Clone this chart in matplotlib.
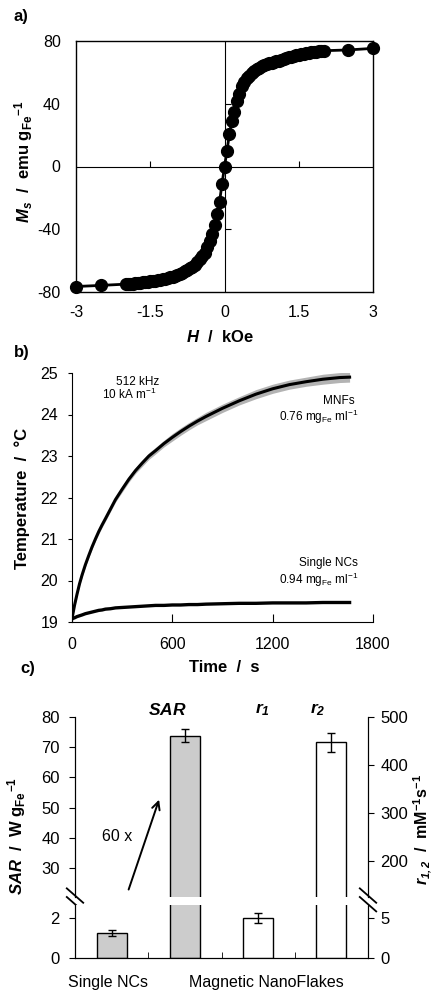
import matplotlib
matplotlib.use("Agg")
import matplotlib.pyplot as plt
import numpy as np

plt.rcParams['font.family'] = ['Liberation Sans', 'DejaVu Sans']
plt.rcParams['mathtext.fontset'] = 'custom'
plt.rcParams['mathtext.rm'] = 'Liberation Sans'
plt.rcParams['mathtext.it'] = 'Liberation Sans:italic'
plt.rcParams['mathtext.bf'] = 'Liberation Sans:bold'
plt.rcParams['mathtext.bfit'] = 'Liberation Sans:italic:bold'

# ---------------- data ----------------
# (a) magnetization curve
H_kOe = [-3.0, -2.5, -2.0, -1.95, -1.9, -1.85, -1.8, -1.75, -1.7, -1.65, -1.6, -1.55,
         -1.5, -1.45, -1.4, -1.35, -1.3, -1.25, -1.2, -1.15, -1.1, -1.05, -1.0, -0.95,
         -0.9, -0.85, -0.8, -0.75, -0.7, -0.65, -0.6, -0.55, -0.5, -0.45, -0.4, -0.35,
         -0.3, -0.25, -0.2, -0.15, -0.1, -0.05, 0.0, 0.05, 0.1, 0.15, 0.2, 0.25, 0.3,
         0.35, 0.4, 0.45, 0.5, 0.55, 0.6, 0.65, 0.7, 0.75, 0.8, 0.85, 0.9, 0.95, 1.0,
         1.05, 1.1, 1.15, 1.2, 1.25, 1.3, 1.35, 1.4, 1.45, 1.5, 1.55, 1.6, 1.65, 1.7,
         1.75, 1.8, 1.85, 1.9, 1.95, 2.0, 2.5, 3.0]
Ms = [-76.5, -75.8, -75.0, -74.9, -74.7, -74.6, -74.4, -74.3, -74.1, -73.9, -73.7, -73.5,
      -73.3, -73.1, -72.9, -72.6, -72.3, -72.0, -71.6, -71.2, -70.7, -70.2, -69.6, -69.0,
      -68.3, -67.6, -66.8, -65.9, -64.9, -63.8, -62.5, -61.0, -59.2, -57.3, -55.0, -51.5,
      -47.5, -43.0, -37.5, -30.0, -22.5, -11.0, 0.0, 10.0, 21.0, 29.0, 35.0, 41.5, 46.5,
      51.0, 54.0, 56.2, 58.0, 59.6, 61.0, 62.1, 63.0, 63.9, 64.7, 65.2, 65.7, 66.1, 66.5,
      67.0, 67.5, 68.0, 68.5, 69.0, 69.5, 70.0, 70.5, 70.9, 71.3, 71.7, 72.0, 72.3, 72.5,
      72.8, 73.0, 73.2, 73.4, 73.6, 73.8, 74.3, 75.3]

# (b) heating curves
time_s = [0, 15, 30, 45, 60, 80, 100, 120, 140, 160, 180, 200, 230, 260, 300, 340,
          380, 420, 460, 500, 550, 600, 650, 700, 750, 800, 900, 1000, 1100, 1200,
          1300, 1400, 1500, 1600, 1660]
T_MNF = [19.08, 19.40, 19.67, 19.92, 20.13, 20.38, 20.60, 20.81, 21.00, 21.18, 21.34,
         21.49, 21.72, 21.95, 22.20, 22.44, 22.65, 22.83, 23.00, 23.13, 23.30, 23.45,
         23.59, 23.72, 23.84, 23.95, 24.15, 24.33, 24.49, 24.62, 24.72, 24.79, 24.85,
         24.89, 24.90]
T_MNF_sd = [0.00, 0.01, 0.01, 0.01, 0.02, 0.02, 0.02, 0.02, 0.02, 0.03, 0.03, 0.03,
            0.03, 0.03, 0.04, 0.04, 0.04, 0.05, 0.05, 0.05, 0.05, 0.06, 0.06, 0.06,
            0.06, 0.07, 0.07, 0.07, 0.08, 0.08, 0.08, 0.08, 0.09, 0.09, 0.09]
T_NC = [19.08, 19.10, 19.13, 19.15, 19.17, 19.20, 19.22, 19.24, 19.26, 19.28, 19.29,
        19.31, 19.32, 19.34, 19.35, 19.36, 19.37, 19.38, 19.39, 19.40, 19.40, 19.41,
        19.41, 19.42, 19.42, 19.43, 19.44, 19.45, 19.45, 19.46, 19.46, 19.46, 19.47,
        19.47, 19.47]

# (c) bars
bar_labels = ['SAR NCs', 'SAR MNFs', 'r1 MNFs', 'r2 MNFs']
SAR_vals = [1.25, 73.8]
SAR_err = [0.15, 2.1]
r_vals = [5.0, 447.0]
r_err = [0.6, 19.0]

# ---------------- figure ----------------
W, Hpx = 434, 992
fig = plt.figure(figsize=(W / 100, Hpx / 100), dpi=100)

def rect(l, r, t, b):
    return [l / W, 1 - b / Hpx, (r - l) / W, (b - t) / Hpx]

FS = 11
FSL = 12

# ---- panel a ----
axa = fig.add_axes(rect(76, 373, 41, 292))
axa.plot(H_kOe, Ms, '-o', color='black', lw=2.0, ms=8.5, zorder=3, clip_on=False)
axa.axhline(0, color='black', lw=0.8, zorder=1)
axa.axvline(0, color='black', lw=0.8, zorder=1)
axa.plot([-1.5, 1.5], [0, 0], ls='none', marker=2, ms=4, color='black', mew=0.8)
axa.plot([0, 0], [40, -40], ls='none', marker=1, ms=4, color='black', mew=0.8)
axa.set_xlim(-3, 3)
axa.set_ylim(-80, 80)
axa.set_xticks([-3, -1.5, 0, 1.5, 3])
axa.set_xticklabels(['-3', '-1.5', '0', '1.5', '3'])
axa.set_yticks([-80, -40, 0, 40, 80])
axa.set_yticklabels(['-80', '-40', '0', '40', '80'])
axa.tick_params(axis='x', length=0, labelsize=FS + 0.5, pad=9)
axa.tick_params(axis='y', length=0, labelsize=FS + 0.5, pad=11)
for s in axa.spines.values():
    s.set_linewidth(1.0)
fig.text(220 / W, 1 - 337 / Hpx, r'$\mathbfit{H}$  /  kOe', ha='center', va='center',
         fontsize=FSL, fontweight='bold')
fig.text(24 / W, 1 - 162 / Hpx, r'$\mathbfit{M_s}$  /  emu g$_{\mathbf{Fe}}$$^{\mathbf{-1}}$',
         rotation=90, ha='center', va='center', fontsize=FSL, fontweight='bold')
fig.text(14 / W, 1 - 17 / Hpx, 'a)', fontsize=FSL, fontweight='bold', va='center')

# ---- panel b ----
axb = fig.add_axes(rect(72, 373, 373, 622))
tb = np.array(time_s)
tm = np.array(T_MNF)
sd = np.array(T_MNF_sd)
axb.fill_between(tb, tm - sd - 0.03, tm + sd + 0.03, color='#b3b3b3', lw=0, zorder=2)
axb.plot(time_s, T_MNF, color='black', lw=2.2, zorder=3)
axb.plot(time_s, T_NC, color='black', lw=2.4, zorder=3)
axb.set_xlim(0, 1800)
axb.set_ylim(19, 25)
axb.set_xticks([0, 600, 1200, 1800])
axb.set_yticks([19, 20, 21, 22, 23, 24, 25])
axb.spines['top'].set_visible(False)
axb.spines['right'].set_visible(False)
axb.tick_params(axis='x', direction='in', length=6, labelsize=FS + 0.5, pad=11)
axb.tick_params(axis='y', direction='out', length=3, labelsize=FS + 0.5, pad=7)
fs_small = 8.5
axb.text(0.29, 0.965, '512 kHz', transform=axb.transAxes, ha='right', va='center', fontsize=fs_small)
axb.text(0.28, 0.913, r'10 kA m$^{-1}$', transform=axb.transAxes, ha='right', va='center', fontsize=fs_small)
axb.text(0.94, 0.888, 'MNFs', transform=axb.transAxes, ha='right', va='center', fontsize=fs_small)
axb.text(0.95, 0.822, r'0.76 mg$_{\mathrm{Fe}}$ ml$^{-1}$', transform=axb.transAxes, ha='right', va='center', fontsize=fs_small)
axb.text(0.95, 0.237, 'Single NCs', transform=axb.transAxes, ha='right', va='center', fontsize=fs_small)
axb.text(0.95, 0.170, r'0.94 mg$_{\mathrm{Fe}}$ ml$^{-1}$', transform=axb.transAxes, ha='right', va='center', fontsize=fs_small)
fig.text(224 / W, 1 - 668 / Hpx, 'Time  /  s', ha='center', va='center', fontsize=FSL, fontweight='bold')
fig.text(22 / W, 1 - 498 / Hpx, 'Temperature  /  °C', rotation=90, ha='center', va='center',
         fontsize=FSL, fontweight='bold')
fig.text(14 / W, 1 - 352 / Hpx, 'b)', fontsize=FSL, fontweight='bold', va='center')

# ---- panel c ----
FSC = 12
x = np.arange(4)
bw = 0.41
axu = fig.add_axes(rect(75, 368, 717, 897))
axl = fig.add_axes(rect(75, 368, 905, 958))
axu2 = axu.twinx()
axl2 = axl.twinx()

for a_left, a_right in [(axu, axu2), (axl, axl2)]:
    a_left.bar(x[:2], SAR_vals, bw, yerr=SAR_err, color='#cccccc', edgecolor='black', lw=1,
               error_kw=dict(ecolor='black', elinewidth=1, capsize=3, capthick=1))
    a_right.bar(x[2:], r_vals, bw, yerr=r_err, color='white', edgecolor='black', lw=1,
                error_kw=dict(ecolor='black', elinewidth=1, capsize=3, capthick=1))
    for a in (a_left, a_right):
        a.set_xlim(-0.5, 3.5)
        a.spines['top'].set_visible(False)
        a.tick_params(labelsize=FSC, direction='out', length=4)
    a_left.tick_params(axis='y', pad=7)
    a_right.tick_params(axis='y', pad=5)

axu.set_ylim(20.4, 80)
axu2.set_ylim(125, 500)
axl.set_ylim(0, 2.65)
axl2.set_ylim(0, 6.6)
axu.set_yticks([30, 40, 50, 60, 70, 80])
axu2.set_yticks([200, 300, 400, 500])
axl.set_yticks([0, 2])
axl2.set_yticks([0, 5])
for a in (axu, axu2):
    a.spines['bottom'].set_visible(False)
    a.set_xticks([])
axl.set_xticks([])
axl.set_xticks([0.5, 1.5, 2.5], minor=True)
axl.tick_params(axis='x', which='minor', direction='in', length=4)
axl2.set_xticks([])

# break marks
for xs in (0.0, 1.0):
    for yc in (0.008, -0.040):
        axu.plot([xs - 0.028, xs + 0.028], [yc + 0.04, yc - 0.04], color='black', lw=1.3,
                 transform=axu.transAxes, clip_on=False)

# annotations
axu.annotate('', xy=(0.66, 53.5), xytext=(0.22, 22.0),
             arrowprops=dict(arrowstyle='->', lw=1.4, color='black', mutation_scale=14),
             annotation_clip=False)
axu.text(0.08, 40.3, '60 x', ha='center', va='center', fontsize=FS + 0.5)
fig.text(167 / W, 1 - 710 / Hpx, r'$\mathbfit{SAR}$', ha='center', va='center', fontsize=12.5)
fig.text(263 / W, 1 - 710 / Hpx, r'$\mathbfit{r_1}$', ha='center', va='center', fontsize=12.5)
fig.text(318 / W, 1 - 710 / Hpx, r'$\mathbfit{r_2}$', ha='center', va='center', fontsize=12.5)
fig.text(108 / W, 1 - 982 / Hpx, 'Single NCs', ha='center', va='center', fontsize=FS + 0.5)
fig.text(266 / W, 1 - 982 / Hpx, 'Magnetic NanoFlakes', ha='center', va='center', fontsize=FS + 0.5)
fig.text(17 / W, 1 - 836 / Hpx, r'$\mathbfit{SAR}$  /  W g$_{\mathbf{Fe}}$$^{\mathbf{-1}}$',
         rotation=90, ha='center', va='center', fontsize=FSL, fontweight='bold')
fig.text(423 / W, 1 - 830 / Hpx, r'$\mathbfit{r}_{\mathbfit{1,2}}$  /  mM$^{\mathbf{-1}}$s$^{\mathbf{-1}}$',
         rotation=90, ha='center', va='center', fontsize=FS + 0.5, fontweight='bold')
fig.text(20 / W, 1 - 668 / Hpx, 'c)', fontsize=FSL, fontweight='bold', va='center')

fig.savefig('out.png', dpi=100)
